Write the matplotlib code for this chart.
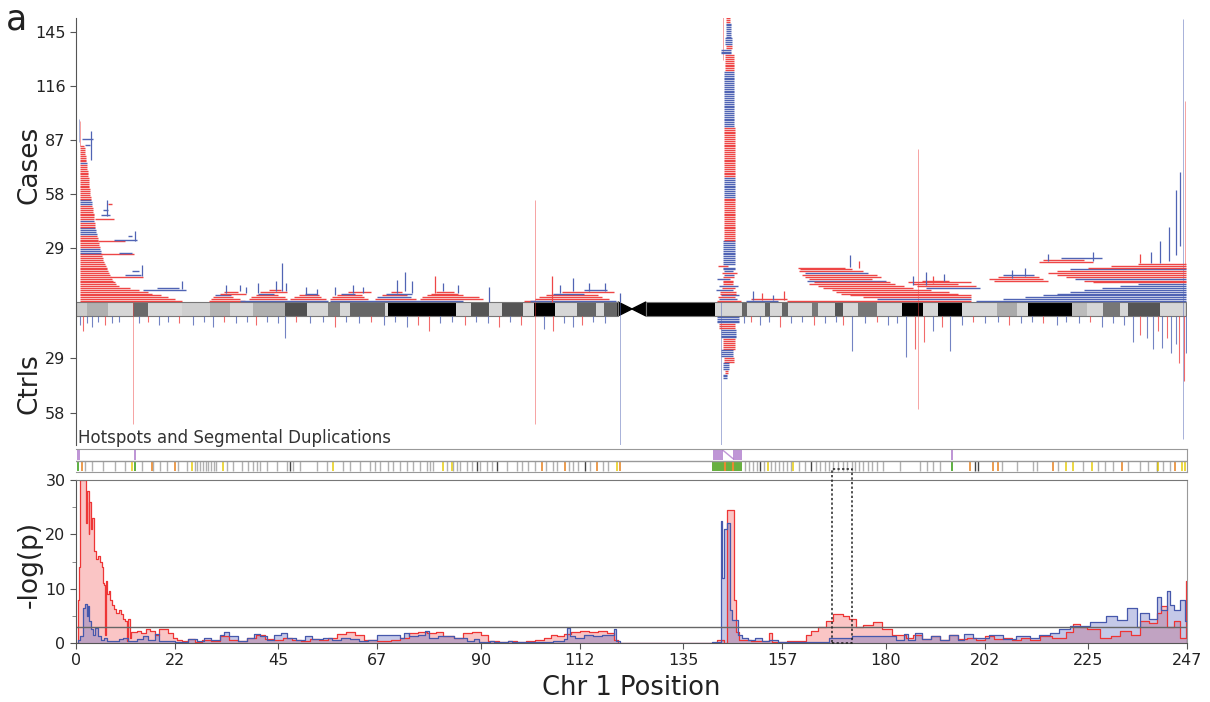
import matplotlib
matplotlib.use("Agg")
import matplotlib.pyplot as plt
from matplotlib.patches import Rectangle, Polygon

RED = "#ee4646"
BLUE = "#5064b4"
COL = {"r": RED, "b": BLUE}

# ---------------- data ----------------
# ideogram bands: (start Mb, end Mb, shade)
bands = [(0, 2.4, "#cccccc"), (2.4, 7.1, "#b0b0b0"), (7.1, 12.7, "#d6d6d6"), (12.7, 16.0, "#6a6a6a"),
         (16.0, 23.6, "#d8d8d8"), (23.6, 29.8, "#cfcfcf"), (29.8, 34.2, "#b4b4b4"), (34.2, 39.4, "#d6d6d6"),
         (39.4, 46.5, "#b0b0b0"), (46.5, 51.4, "#505050"), (51.4, 56.0, "#d6d6d6"), (56.0, 58.7, "#808080"),
         (58.7, 60.9, "#d6d6d6"), (60.9, 68.7, "#666666"), (68.7, 69.4, "#d6d6d6"), (69.4, 84.5, "#000000"),
         (84.5, 87.8, "#d6d6d6"), (87.8, 91.8, "#555555"), (91.8, 94.7, "#d6d6d6"), (94.7, 99.4, "#555555"),
         (99.4, 101.8, "#d6d6d6"), (101.8, 106.5, "#000000"), (106.5, 111.4, "#d6d6d6"), (111.4, 115.6, "#666666"),
         (115.6, 117.4, "#d6d6d6"), (117.4, 120.5, "#666666"),
         (126.7, 142.1, "#000000"), (142.1, 148.1, "#d6d6d6"), (148.1, 149.2, "#666666"), (149.2, 153.2, "#d6d6d6"),
         (153.2, 154.3, "#666666"), (154.3, 157.0, "#d6d6d6"), (157.0, 158.3, "#666666"), (158.3, 163.6, "#d6d6d6"),
         (163.6, 165.0, "#777777"), (165.0, 168.7, "#d6d6d6"), (168.7, 170.5, "#555555"), (170.5, 173.9, "#d6d6d6"),
         (173.9, 178.1, "#777777"), (178.1, 183.6, "#d6d6d6"), (183.6, 188.3, "#000000"), (188.3, 191.6, "#d6d6d6"),
         (191.6, 197.0, "#000000"), (197.0, 204.8, "#d6d6d6"), (204.8, 209.2, "#aaaaaa"), (209.2, 211.6, "#d6d6d6"),
         (211.6, 221.4, "#000000"), (221.4, 224.8, "#bbbbbb"), (224.8, 228.3, "#d6d6d6"), (228.3, 232.1, "#777777"),
         (232.1, 233.9, "#d6d6d6"), (233.9, 241.0, "#555555"), (241.0, 246.8, "#d6d6d6")]
centromere = (120.5, 126.7)
chr_len = 246.8

# cases, p-terminal stack: end of each row (row 1 at the bottom), all rows start at 0.8 Mb
pter_start = 0.8
pter_ends = [23.5, 22, 20.5, 19, 17, 16, 14, 12, 9.5, 9.0,
             8.6, 8.3, 8.0, 7.8, 7.6, 7.4, 7.2, 7.0, 6.8, 6.6,
             6.4, 6.2, 6.0, 5.9, 5.8, 5.7, 5.6, 5.5, 5.4, 5.3,
             5.2, 5.1, 5.0, 4.9, 4.8, 4.7, 4.6, 4.5, 4.4, 4.3,
             4.3, 4.2, 4.2, 4.1, 4.1, 4.0, 3.9, 3.9, 3.8, 3.7,
             3.7, 3.6, 3.5, 3.5, 3.4, 3.3, 3.3, 3.2, 3.2, 3.1,
             3.1, 3.0, 3.0, 2.9, 2.9, 2.8, 2.8, 2.7, 2.7, 2.6,
             2.6, 2.5, 2.5, 2.4, 2.4, 2.3, 2.3, 2.2, 2.2, 2.1,
             2.1, 2.0, 1.9, 1.8]
pter_runs = [(26, "r"), (3, "b"), (7, "r"), (4, "b"), (3, "r"), (1, "b"), (8, "r"),
             (3, "b"), (19, "r"), (1, "b"), (9, "r")]

# cases, 1q21 spike: first rows one by one, then runs (count, colour, start, end)
spike_rows = [(142.6, 147.8, "r"), (143.0, 147.0, "b"), (142.8, 146.5, "r"), (143.5, 147.4, "b"),
              (143.2, 146.8, "r"), (143.2, 146.8, "r"), (142.2, 146.0, "b"), (143.6, 146.4, "r"),
              (143.0, 147.2, "b"), (143.8, 146.0, "r"), (143.8, 146.0, "r"), (143.8, 146.0, "r"),
              (142.5, 145.5, "b"), (143.8, 146.3, "r"), (144.0, 146.2, "b"), (143.6, 147.0, "r"),
              (144.0, 146.0, "b")]
spike_runs = [(2, "b", 143.8, 146.4), (1, "r", 142.8, 145.0), (13, "b", 143.8, 146.4),
              (23, "r", 144.0, 146.5), (11, "b", 144.0, 146.4), (27, "r", 144.1, 146.4),
              (30, "b", 144.1, 146.3), (9, "r", 144.2, 146.2), (3, "b", 143.4, 145.6),
              (2, "r", 144.4, 145.8), (4, "b", 144.2, 145.9), (8, "b", 144.5, 145.6),
              (4, "r", 144.6, 145.4)]

# cases, q-terminal stack: start of each row, all rows end at chr end
qter_starts = [200, 206, 211, 215, 218, 221, 224, 228, 232, 236,
               226, 224, 222, 220, 218, 216, 218, 221, 225, 230, 236]
qter_cols = ["b", "b", "b", "b", "b", "b", "b", "b", "b", "b",
             "r", "r", "b", "r", "r", "r", "r", "b", "r", "r", "r"]

# other case CNVs: (start, end, row, colour)
case_segs = [
    (15, 24.5, 7, "b"), (18, 23, 8, "b"), (7.5, 15, 14, "r"), (11, 14.5, 15, "b"), (12.5, 14, 17, "b"),
    (5.5, 13, 26, "r"), (9.5, 12.5, 27, "b"), (5, 11, 33, "r"), (8.5, 13.5, 34, "b"), (11.5, 12.5, 36, "b"),
    (4.2, 8.5, 45, "r"), (5.5, 7.5, 47, "b"), (6.0, 7.2, 50, "b"), (7.2, 8.0, 53, "r"),
    (1.4, 3.8, 88, "b"), (2.0, 3.2, 85, "b"),
    (29.5, 37.5, 1, "r"), (30, 36.5, 2, "r"), (30.5, 35, 3, "r"), (31, 34.5, 4, "b"), (32, 37.8, 5, "r"),
    (33, 36, 6, "r"), (36.5, 56, 1, "b"),
    (38.5, 47, 2, "r"), (39, 46.5, 3, "r"), (40, 45, 4, "r"), (40.5, 44, 5, "b"), (41, 46.8, 6, "r"),
    (43, 45.5, 7, "r"), (47.5, 55.5, 2, "r"), (48.5, 54.5, 3, "r"), (49.5, 54, 4, "r"), (51, 53.5, 5, "b"),
    (56.5, 86, 1, "b"), (56.5, 65, 2, "r"), (57, 64, 3, "r"), (58, 63.5, 4, "r"), (59, 62, 5, "b"),
    (60.5, 65.5, 6, "r"), (66.5, 75.5, 2, "r"), (67, 74.5, 3, "b"), (68, 73.5, 4, "r"), (69, 74.8, 5, "b"),
    (70, 72.5, 6, "r"), (76.5, 90.5, 2, "r"), (77, 89.5, 3, "r"), (78, 86, 4, "r"), (79, 85, 5, "r"),
    (80, 84, 6, "r"), (99.5, 102, 1, "r"),
    (101, 120, 1, "b"), (102, 118.5, 2, "r"), (103, 117, 3, "r"), (104.5, 116, 4, "r"), (106, 113, 5, "b"),
    (108, 119.5, 6, "r"), (113, 118, 7, "b"),
    (149, 156, 1, "b"), (150, 158, 2, "r"),
    (160.5, 171, 19, "r"), (161, 172.5, 18, "r"), (160.8, 175, 17, "r"), (162, 176, 16, "b"),
    (161.5, 178, 15, "r"), (162, 179, 14, "r"), (163, 177, 13, "r"), (162.5, 180, 12, "b"),
    (164, 181, 11, "r"), (163, 182, 10, "r"), (165, 184, 9, "r"), (166, 186, 8, "r"), (168, 190, 7, "r"),
    (169, 194, 6, "r"), (170, 196, 5, "r"), (172, 199, 4, "r"), (175, 199, 3, "r"), (178, 199, 2, "b"),
    (158, 199, 1, "r"),
    (185, 199, 11, "r"), (186, 196, 10, "r"), (187, 200, 9, "r"), (189, 201, 8, "b"), (188, 194, 12, "r"),
    (203, 215, 13, "r"), (205, 214, 14, "r"), (206, 213, 15, "b"), (204, 216, 12, "r"),
    (214, 226, 22, "r"), (215, 224, 23, "r"), (219, 228, 24, "b")]

# short vertical stems of stacked small CNVs: (x, row low, row high, colour)
case_stems = [(3.4, 76, 92, "b"), (13.2, 33, 38, "b"), (14.6, 14, 20, "b"), (7.0, 46, 55, "b"),
              (23.5, 7, 11, "b"), (33.4, 5, 9, "b"), (36.4, 6, 9, "b"), (37.8, 5, 8, "b"),
              (40.5, 5, 10, "b"), (44.5, 6, 11, "b"), (45.8, 6, 21, "b"), (46.7, 6, 10, "b"),
              (51.2, 4, 8, "b"), (53.5, 4, 7, "b"), (57.5, 4, 8, "b"), (61.5, 5, 9, "b"), (63.8, 5, 8, "b"),
              (71.4, 5, 12, "b"), (73.2, 6, 16, "b"), (74.8, 5, 11, "b"), (79.8, 5, 14, "r"),
              (81.5, 6, 10, "b"), (85, 5, 9, "b"), (91.8, 0, 8, "b"), (105.8, 0, 14, "r"),
              (107.5, 5, 9, "b"), (110.5, 6, 13, "b"), (114, 6, 10, "b"), (117.5, 6, 10, "b"),
              (121, 0, 5, "b"), (150.5, 1, 6, "b"), (152.5, 1, 5, "r"), (155, 1, 4, "b"),
              (157.5, 1, 6, "r"), (172, 19, 25, "b"), (174, 18, 22, "r"),
              (186, 9, 14, "b"), (189, 9, 16, "b"), (193, 11, 15, "b"), (190.5, 10, 14, "r"),
              (208, 13, 17, "b"), (211, 14, 18, "b"),
              (216, 22, 26, "b"), (226, 22, 27, "b"), (236.5, 21, 26, "r"), (239, 21, 27, "b"),
              (241, 21, 33, "b"), (243, 22, 40, "b"), (244.5, 25, 60, "b"), (245.5, 30, 70, "b")]

# long faint lines (many small CNVs at one locus): (x, low, high, colour), negatives are controls
thin_lines = [(1.0, 84, 97, "r"), (0.6, 86, 98, "b"), (102, -58, 55, "r"), (12.7, -58, 0, "r"),
              (121, -74, 0, "b"), (143.5, -77, 0, "b"), (143.8, 130, 153, "r"), (187.2, -50, 82, "r"),
              (246.2, -66, 152, "b"), (246.6, 20, 108, "r")]

# controls: (x, depth, colour)
ctrl_ticks = [(0.8, 5, "b"), (1.5, 8, "r"), (2.5, 4, "b"), (3.5, 6, "b"), (5.0, 3, "b"), (6.5, 5, "r"),
              (8, 4, "b"), (9.5, 3, "b"), (14, 4, "b"), (16, 3, "r"), (18.5, 5, "b"), (20.5, 3, "b"),
              (23, 4, "r"), (26, 5, "b"), (28.5, 3, "b"), (30.5, 6, "b"), (33, 3, "r"), (35.5, 4, "b"),
              (38, 3, "b"), (40, 5, "r"), (42.5, 3, "b"), (45, 4, "b"), (46.5, 12, "b"), (49, 3, "r"),
              (52, 4, "b"), (55, 3, "b"), (57.5, 6, "r"), (60, 3, "b"), (63, 4, "b"), (65.5, 3, "r"),
              (68.5, 5, "b"), (71, 3, "b"), (73.5, 6, "b"), (76, 5, "r"), (78.5, 8, "r"), (81, 4, "b"),
              (83.5, 3, "b"), (86.5, 5, "r"), (89, 3, "b"), (91.5, 4, "b"), (94, 6, "r"), (96.5, 3, "b"),
              (99, 5, "r"), (104, 7, "b"), (106, 8, "r"), (108.5, 4, "b"), (110.5, 6, "b"), (112.5, 5, "r"),
              (115, 3, "b"), (117.5, 4, "b"), (148.5, 4, "b"), (150, 3, "r"), (152, 5, "b"), (154, 3, "b"),
              (156.5, 6, "r"), (159, 4, "b"), (161.5, 3, "b"), (164, 5, "r"), (166.5, 4, "b"), (169, 3, "b"),
              (170.5, 5, "r"), (172.5, 19, "b"), (175.5, 4, "b"), (178, 3, "r"), (180.5, 5, "b"),
              (182.5, 4, "b"), (184.5, 22, "b"), (186.5, 18, "r"), (188.5, 14, "r"), (190.5, 8, "b"),
              (192.5, 6, "r"), (194.3, 19, "b"), (197, 5, "b"), (199.5, 3, "r"), (202, 4, "b"), (205, 3, "b"),
              (207.5, 5, "r"), (210, 4, "b"), (212.5, 3, "b"), (215, 4, "r"), (218, 5, "b"), (220, 3, "b"),
              (223, 4, "b"), (225.5, 3, "r"), (228, 6, "b"), (230.5, 4, "b"), (233, 5, "b"), (235, 14, "b"),
              (236.5, 10, "r"), (238, 12, "b"), (239.5, 18, "b"), (240.5, 8, "r"), (241.5, 17, "b"),
              (242.5, 12, "r"), (243.5, 20, "b"), (244.5, 15, "b"), (245.2, 25, "r"), (246.4, 35, "r"),
              (246.8, 20, "b")]
# controls at 1q21: runs (count, colour, start, end) from the ideogram downwards
ctrl_spike_runs = [(4, "b", 142.5, 147.5), (3, "r", 143.0, 146.5), (5, "b", 143.5, 146.8),
                   (6, "r", 143.8, 146.5), (4, "b", 143.5, 146.0), (3, "r", 144.0, 146.2),
                   (4, "b", 143.8, 145.2), (2, "r", 144.2, 145.0), (3, "b", 143.9, 144.8)]

# hotspots (top row) and segmental duplications (bottom row)
hotspots = [(0.3, 0.8), (12.9, 13.3), (141.7, 143.8), (146.1, 148.1), (194.5, 194.9)]
sd_gray = [2.0, 3.5, 6.0, 8.7, 10.9, 14.6, 17.1, 18.7, 20.2, 22.7, 24.6, 26.5, 27.0, 27.6, 28.2, 28.8,
           29.4, 30.0, 30.6, 31.2, 33.5, 34.9, 36.8, 38.3, 39.4, 40.2, 40.9, 42.4, 44.6, 46.8, 48.3, 49.8,
           53.5, 55.7, 59.4, 60.9, 63.1, 65.4, 66.5, 67.6, 69.4, 70.5, 72.0, 73.5, 75.0, 76.5, 78.0, 78.7,
           79.4, 82.4, 83.9, 84.6, 85.4, 86.9, 88.0, 89.8, 91.3, 92.4, 95.8, 98.0, 99.1, 100.6, 102.0,
           104.6, 106.1, 106.9, 109.5, 110.6, 111.7, 114.3, 117.2, 118.3, 148.8, 149.6, 150.5, 151.3,
           153.0, 154.6, 155.4, 156.2, 157.1, 158.0, 158.9, 160.8, 162.0, 164.5, 165.5, 166.5, 167.5,
           168.3, 169.5, 170.5, 171.5, 172.5, 173.2, 174.0, 175.0, 176.0, 177.0, 178.0, 179.5, 183.2,
           187.6, 189.1, 190.6, 192.1, 205.8, 209.1, 212.8, 213.6, 218.4, 223.9, 227.3, 228.8, 230.6,
           233.9, 236.5, 238.4, 241.7, 243.2]
sd_dark = [47.6, 89.1, 93.5, 113.2, 152.0, 163.3, 199.9, 200.6, 240.3]
sd_yellow = [12.4, 25.7, 32.7, 57.2, 81.7, 83.5, 120.2, 153.8, 159.5, 220.2, 221.7, 225.8, 240.6,
             245.8, 246.5]
sd_orange = [1.3, 16.8, 22.0, 103.5, 108.7, 115.8, 120.9, 144.3, 146.1, 198.8, 203.9, 205.0, 217.3,
             232.5, 244.3]
sd_green = [0.5, 13.1, 194.7]
sd_green_block = (141.3, 148.0)

# -log(p) step curves (position Mb, value)
red_pos = [0, 0.5, 0.7, 1.0, 2.2, 2.5, 2.8, 3.0, 3.4, 3.6, 4.0, 4.5, 5.0, 5.4, 5.8, 6.0, 6.3, 6.5, 6.7,
           7.0, 7.3, 7.6, 8.0, 8.5, 9.0, 9.5, 10.0, 10.5, 11.0, 11.3, 11.6, 12.0, 12.3, 13.5, 14.5, 15.5,
           16.5, 17.5, 18.5, 19.5, 20.5, 21.5, 22.5, 23.5, 25, 26.5, 28, 30, 32, 34, 36, 38, 40, 42, 44,
           46, 48, 50, 52, 54, 56, 58, 60, 62, 64, 67, 70, 72, 74, 76, 78, 80, 81.5, 84, 86, 88, 90, 91.5,
           94, 96, 98, 100, 102, 104, 105.5, 107, 108.5, 110, 112, 114, 116, 118, 119.5, 120.5, 142.5,
           144, 144.8, 146.3, 146.8, 147.5, 150, 154, 154.8, 158, 162.2, 163.5, 165, 166.7, 168.2, 170.5,
           171.9, 173.4, 175, 177.1, 179.3, 181.5, 184.5, 186, 188, 190, 192, 194, 196, 198, 200, 202,
           204, 206, 208, 210, 212, 214.3, 217, 220.2, 221.6, 223.2, 224.7, 227.7, 230, 232.1, 234.5,
           236.6, 238.5, 240.3, 241.3, 242.5, 244, 245.5, 246.8, 247]
red_val = [0, 8, 14, 30, 22, 28, 20, 26, 21, 23, 17, 15.5, 16, 15, 14, 11, 10.6, 1.5, 11.5,
           9, 9.5, 8, 7, 6.3, 5.5, 6.0, 5.4, 4.5, 4.0, 0.3, 4.5, 1.0, 2.0, 2.3, 1.8, 2.5,
           2.2, 1.5, 2.6, 2.6, 1.8, 1.0, 0.6, 0.4, 0.8, 0.2, 0.6, 0.3, 1.2, 0.5, 0.3, 1.0, 1.4, 0.8, 0.5,
           1.0, 0.6, 0.4, 0.8, 0.5, 1.0, 1.6, 2.0, 1.4, 0.5, 0.4, 0.6, 1.0, 1.8, 2.0, 1.8, 2.0, 1.2, 1.0,
           1.8, 2.0, 1.4, 0.3, 0.2, 0.4, 0.1, 0.3, 0.6, 1.0, 1.4, 1.2, 1.6, 2.0, 2.2, 2.0, 2.2, 1.8, 0.6,
           0.0, 0.6, 0.0, 24.5, 8, 2.0, 0.5, 0.3, 1.8, 0.2, 0.4, 1.5, 2.3, 3.0, 4.0, 5.3, 5.0, 4.5, 3.0,
           3.3, 3.8, 2.5, 1.5, 1.0, 1.5, 0.8, 1.2, 0.6, 1.4, 0.8, 1.0, 0.6, 1.2, 0.7, 1.0, 0.6, 0.9, 0.5,
           1.2, 1.0, 2.0, 3.5, 3.0, 2.5, 1.0, 1.3, 2.2, 1.5, 4.0, 3.6, 5.5, 6.8, 3.0, 4.0, 1.0, 11.5, 0]
blue_pos = [0, 0.5, 1.0, 1.5, 1.9, 2.4, 2.7, 3.0, 3.3, 3.8, 4.2, 4.8, 5.5, 6.2, 7.0, 9.5, 10.5, 11.5,
            13.5, 15, 16, 17.5, 18.5, 20, 22, 25, 27, 28.5, 30, 32, 33, 34, 36, 38, 39.5, 41, 42.5, 44,
            45.5, 47, 49, 51, 52.5, 55, 57, 59, 61, 63, 65, 67, 72, 73, 74, 76, 77.5, 78.5, 80.5, 84, 87,
            88.5, 89.5, 92, 93, 96, 97, 100, 101, 106, 108.5, 109.2, 109.8, 111, 113, 115, 117, 119.5,
            120, 121, 141.5, 143.3, 143.7, 144.0, 144.8, 145.3, 145.8, 147.2, 148, 149.5, 151, 152.5, 154,
            156, 157, 166, 167.5, 172.6, 182.3, 184, 185, 186.5, 188, 190, 192, 194, 196, 197.5, 199.4,
            203, 206, 209, 212, 214, 216.5, 218.5, 221, 225.4, 229.1, 231.4, 233.6, 235.8, 236.6, 238.5,
            240.3, 241.3, 242.5, 243.3, 244, 245.5, 246.5, 247]
blue_val = [0, 0.5, 1.2, 6.5, 7.2, 5.0, 6.8, 4.0, 2.5, 1.5, 2.8, 1.2, 0.6, 1.0, 0.3, 0.8, 1.0, 0.4,
            0.8, 1.2, 0.5, 1.6, 0.4, 0.3, 0.2, 0.8, 0.3, 1.0, 0.5, 1.4, 2.0, 1.2, 0.4, 1.0, 1.6, 1.2, 0.6,
            1.5, 1.8, 1.0, 0.5, 1.2, 0.7, 1.0, 0.6, 1.0, 0.7, 0.4, 0.6, 1.5, 1.0, 1.9, 1.2, 1.5, 2.2, 1.0,
            1.2, 1.0, 0.3, 0.8, 0.2, 0.4, 0.1, 0.3, 0.1, 0.2, 0.1, 0.3, 0.8, 2.8, 1.2, 1.0, 1.5, 1.2, 1.4,
            2.5, 0.3, 0.05, 0.1, 22.5, 12.0, 21.0, 22.0, 6.0, 4.2, 1.5, 1.0, 0.5, 1.0, 0.3, 0.6, 0.2, 0.1,
            0.2, 1.0, 1.2, 0.6, 1.6, 0.5, 1.8, 0.7, 1.2, 0.5, 1.4, 0.6, 1.6, 1.0, 1.5, 0.8, 1.2, 1.0, 1.5,
            1.8, 2.5, 3.2, 3.8, 5.0, 4.2, 6.4, 3.0, 5.5, 4.5, 8.5, 6.0, 9.5, 7.0, 6.0, 8.0, 4.0, 0]

x_ticks = [0, 22, 45, 67, 90, 112, 135, 157, 180, 202, 225, 247]
case_ticks = [29, 58, 87, 116, 145]
ctrl_tick_pos = [-30.1, -59.6]
ctrl_tick_lab = ["29", "58"]
threshold = 3
box_region = (168.1, 172.5)

# ---------------- figure ----------------
fig = plt.figure(figsize=(12.1, 7.02), dpi=100)
L, W = 76 / 1210, 1111 / 1210
ax = fig.add_axes([L, 1 - 445 / 702, W, 427 / 702])
axh = fig.add_axes([L, 1 - 472 / 702, W, 23 / 702])
axp = fig.add_axes([L, 1 - 643 / 702, W, 163 / 702])

IDEO = 7.5   # ideogram height in row units
ROW_LW = 1.0

# ideogram
for s, e, g in bands:
    ax.add_patch(Rectangle((s, -IDEO), e - s, IDEO, facecolor=g, edgecolor="none", zorder=1))
c0, c1 = centromere
cm = (c0 + c1) / 2
ax.add_patch(Polygon([(c0, 0), (c0, -IDEO), (cm, -IDEO / 2)], closed=True, color="black", zorder=1))
ax.add_patch(Polygon([(c1, 0), (c1, -IDEO), (cm, -IDEO / 2)], closed=True, color="black", zorder=1))
ax.add_patch(Rectangle((0, -IDEO), c0, IDEO, fill=False, edgecolor="#777777", lw=0.8, zorder=2))
ax.add_patch(Rectangle((c1, -IDEO), chr_len - c1, IDEO, fill=False, edgecolor="#777777", lw=0.8, zorder=2))

# cases
lvl = 1
for n, c in pter_runs:
    for i in range(n):
        ax.hlines(lvl - 0.5, pter_start, pter_ends[lvl - 1], colors=COL[c], lw=ROW_LW, zorder=3)
        lvl += 1

lvl = 1
for s, e, c in spike_rows:
    ax.hlines(lvl - 0.5, s, e, colors=COL[c], lw=ROW_LW, zorder=3)
    lvl += 1
for n, c, s, e in spike_runs:
    for i in range(n):
        ax.hlines(lvl - 0.5, s, e, colors=COL[c], lw=ROW_LW, zorder=3)
        lvl += 1

for i, (s, c) in enumerate(zip(qter_starts, qter_cols)):
    ax.hlines(i + 0.5, s, chr_len, colors=COL[c], lw=ROW_LW, zorder=3)

for s, e, r, c in case_segs:
    ax.hlines(r - 0.5, s, e, colors=COL[c], lw=ROW_LW, zorder=3)

for x, lo, hi, c in case_stems:
    ax.vlines(x, lo, hi, colors=COL[c], lw=0.9, zorder=3)

for x, lo, hi, c in thin_lines:
    lo2 = lo - IDEO if lo < 0 else lo
    ax.vlines(x, lo2, hi, colors=COL[c], lw=0.7, alpha=0.5, zorder=2.5)

# controls
for x, d, c in ctrl_ticks:
    ax.vlines(x, -IDEO, -IDEO - d, colors=COL[c], lw=0.8, alpha=0.8, zorder=3)
k = 1
for n, c, s, e in ctrl_spike_runs:
    for i in range(n):
        ax.hlines(-IDEO - k + 0.5, s, e, colors=COL[c], lw=ROW_LW, zorder=3)
        k += 1

ax.set_xlim(0, 247)
ax.set_ylim(-76.8, 152.5)
for sp in ["top", "right", "bottom"]:
    ax.spines[sp].set_visible(False)
ax.spines["left"].set_color("#555555")
ax.set_xticks([])
ax.set_yticks(case_ticks + ctrl_tick_pos)
ax.set_yticklabels([str(t) for t in case_ticks] + ctrl_tick_lab)
ax.tick_params(axis="y", labelsize=11.5, length=4, color="#555555", labelcolor="#222222")

# hotspots / segmental duplications
for s, e in hotspots:
    axh.add_patch(Rectangle((s, 1.05), e - s, 0.9, facecolor="#b07ccc", edgecolor="none", alpha=0.8))
axh.plot([143.8, 146.1], [1.9, 1.15], color="#b07ccc", lw=1.0, alpha=0.8)
axh.vlines(sd_gray, 0.05, 0.95, colors="#b0b0b0", lw=1.0)
axh.vlines(sd_dark, 0.05, 0.95, colors="#444444", lw=1.0)
axh.vlines(sd_yellow, 0.05, 0.95, colors="#e8d020", lw=1.2)
axh.vlines(sd_orange, 0.05, 0.95, colors="#e88a30", lw=1.2)
axh.vlines(sd_green, 0.05, 0.95, colors="#5cb040", lw=1.4)
axh.add_patch(Rectangle((sd_green_block[0], 0.05), sd_green_block[1] - sd_green_block[0], 0.9,
                        facecolor="#68b040", edgecolor="none"))
axh.vlines([144.3, 146.1], 0.05, 0.95, colors="#e88a30", lw=1.5)
axh.axhline(1.0, color="#999999", lw=1.0)
axh.set_xlim(0, 247)
axh.set_ylim(0, 2)
axh.set_xticks([])
axh.set_yticks([])
axh.spines["left"].set_visible(False)
for sp in ["top", "right", "bottom"]:
    axh.spines[sp].set_color("#999999")
fig.text(78 / 1210, 1 - 438 / 702, "Hotspots and Segmental Duplications", fontsize=12,
         color="#333333", va="center", ha="left")

# -log(p) panel
axp.fill_between(red_pos, red_val, step="post", color=(0.95, 0.35, 0.35), alpha=0.35, lw=0)
axp.fill_between(blue_pos, blue_val, step="post", color=(0.35, 0.40, 0.75), alpha=0.35, lw=0)
axp.step(red_pos, red_val, where="post", color="#ee3535", lw=0.9)
axp.step(blue_pos, blue_val, where="post", color="#4658ac", lw=0.9)
axp.axhline(threshold, color="#666666", lw=1.0)
axp.add_patch(Rectangle((box_region[0], 0), box_region[1] - box_region[0], 32, fill=False,
                        edgecolor="#222222", ls=(0, (1.5, 1.5)), lw=1.1, clip_on=False, zorder=5))
axp.set_xlim(0, 247)
axp.set_ylim(0, 30)
axp.set_xticks(x_ticks)
axp.set_yticks([0, 10, 20, 30])
axp.set_yticks([5, 15, 25], minor=True)
axp.tick_params(axis="both", labelsize=11.5, length=4, color="#555555", labelcolor="#222222")
axp.tick_params(axis="y", which="minor", length=3, color="#777777")
axp.spines["top"].set_color("#777777")
axp.spines["right"].set_color("#999999")
axp.spines["left"].set_color("#555555")
axp.spines["bottom"].set_color("#555555")

# labels
fig.text(30 / 1210, 1 - 165 / 702, "Cases", rotation=90, fontsize=19, ha="center", va="center", color="#222222")
fig.text(30 / 1210, 1 - 384 / 702, "Ctrls", rotation=90, fontsize=19, ha="center", va="center", color="#222222")
fig.text(30 / 1210, 1 - 564 / 702, "-log(p)", rotation=90, fontsize=19, ha="center", va="center", color="#222222")
fig.text(631 / 1210, 1 - 688 / 702, "Chr 1 Position", fontsize=18.5, ha="center", va="center", color="#222222")
fig.text(16 / 1210, 1 - 20 / 702, "a", fontsize=25, ha="center", va="center", color="#222222")

fig.savefig("out.png", dpi=100)
